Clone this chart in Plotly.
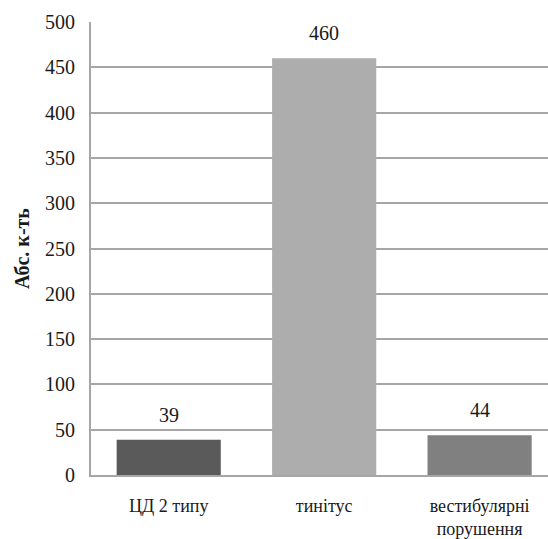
import plotly.graph_objects as go

categories = ["ЦД 2 типу", "тинітус", "вестибулярні<br>порушення"]
values = [39, 460, 44]
colors = ["#5a5a5a", "#adadad", "#808080"]
y_ticks = [0, 50, 100, 150, 200, 250, 300, 350, 400, 450, 500]
y_title = "Абс. к-ть"

FONT = "Liberation Serif, Times New Roman"

fig = go.Figure()
fig.add_trace(go.Bar(
    x=list(range(len(categories))),
    y=values,
    marker=dict(color=colors, line=dict(width=0)),
    width=0.67,
    showlegend=False,
    hoverinfo="skip",
))

for i, v in enumerate(values):
    fig.add_annotation(
        x=i, y=v, text=str(v), showarrow=False,
        yanchor="bottom", yshift=12,
        font=dict(family=FONT, size=20, color="#1a1a1a"),
    )

fig.update_layout(
    width=548, height=539,
    margin=dict(l=91, r=0, t=22, b=64),
    paper_bgcolor="white", plot_bgcolor="white",
    font=dict(family=FONT, size=20, color="#1a1a1a"),
)
fig.update_xaxes(
    range=[-0.5, 2.44],
    tickmode="array",
    tickvals=list(range(len(categories))),
    ticktext=categories,
    showgrid=False, zeroline=False, automargin=False,
    showline=True, linecolor="#a6a6a6", linewidth=2,
    ticks="", ticklabelstandoff=13,
    tickfont=dict(family=FONT, size=18, color="#1a1a1a"),
)
fig.update_yaxes(
    range=[0, 500],
    tickmode="array", tickvals=y_ticks,
    showgrid=True, gridcolor="#a6a6a6", gridwidth=1.5,
    zeroline=False, automargin=False,
    showline=True, linecolor="#a6a6a6", linewidth=2,
    ticks="", ticklabelstandoff=10,
    tickfont=dict(family=FONT, size=20, color="#1a1a1a"),
    title=dict(text="<b>" + y_title + "</b>", standoff=10,
               font=dict(family=FONT, size=20, color="#1a1a1a")),
)

fig.write_html("out.html")
